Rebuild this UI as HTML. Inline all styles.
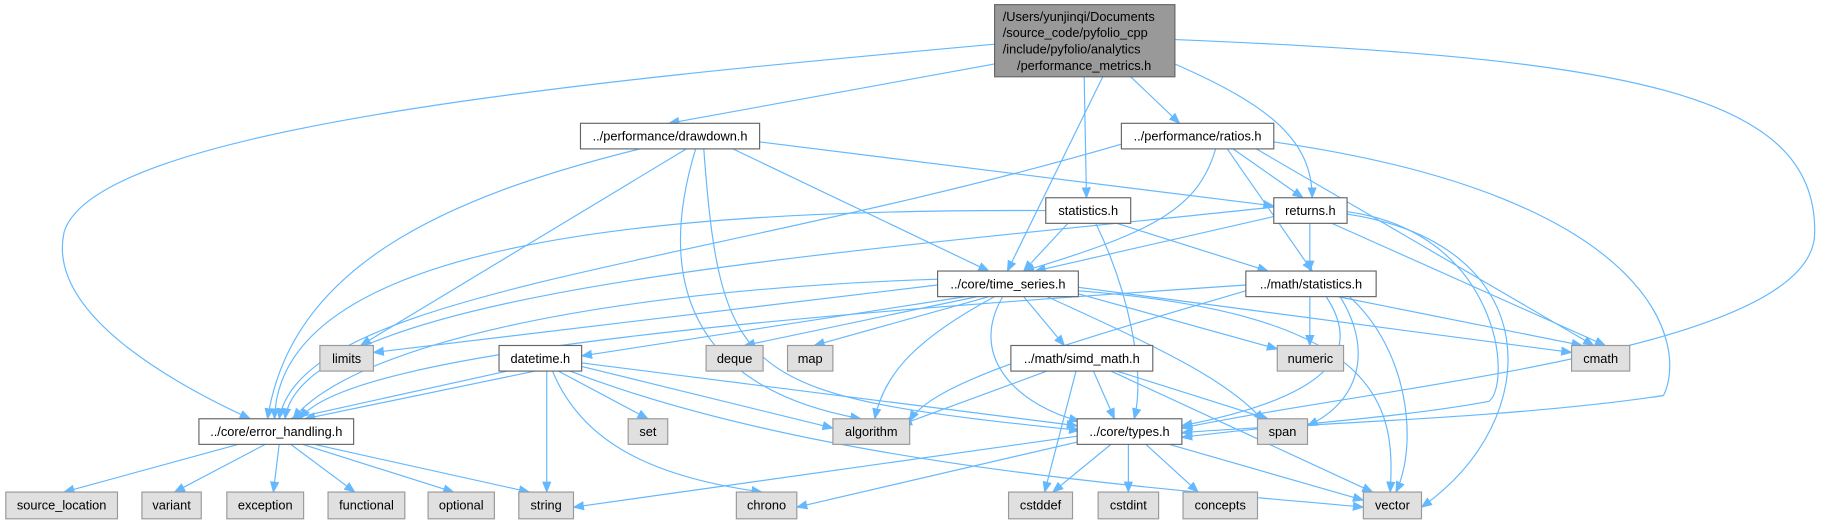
<!DOCTYPE html>
<html><head><meta charset="utf-8"><style>
html,body{margin:0;padding:0;background:#fff;width:1824px;height:523px;overflow:hidden}
svg{display:block}
text{font-family:"Liberation Sans",Arial,sans-serif;font-size:11px;fill:#000}
.e{fill:none;stroke:#63b8ff;stroke-width:1}
.n{fill:#fff;stroke:#666;stroke-width:1}
.g{fill:#e0e0e0;stroke:#999;stroke-width:1}
</style></head><body>
<svg width="1824" height="523" viewBox="0 0 1568 449.6" preserveAspectRatio="none" xmlns="http://www.w3.org/2000/svg">
<defs><marker id="a" markerUnits="userSpaceOnUse" markerWidth="10" markerHeight="8" refX="9" refY="4" orient="auto"><path d="M0,0 L10,4 L0,8 z" fill="#63b8ff"/></marker></defs>
<g class="e" marker-end="url(#a)">
<path d="M855,38 C500,70 80,110 55,200 C40,270 150,330 215,360"/>
<path d="M855,55 L575,106"/>
<path d="M948,66 L866,233"/>
<path d="M932,66 L934,170"/>
<path d="M972,66 L1014,106"/>
<path d="M1010,55 C1090,90 1128,120 1128,170"/>
<path d="M1010,34 C1400,50 1562,80 1560,200 C1560,300 1200,330 1016,368"/>
<path d="M550,128 C380,170 250,230 230,360"/>
<path d="M590,128 L310,297"/>
<path d="M598,128 C570,220 575,330 740,360"/>
<path d="M605,128 C620,330 640,340 928,370"/>
<path d="M630,128 L850,233"/>
<path d="M653,122 L1095,177"/>
<path d="M964,124 C600,230 260,250 240,360"/>
<path d="M1045,128 C1030,180 990,200 880,233"/>
<path d="M1060,128 L1120,170"/>
<path d="M1055,128 L1128,233"/>
<path d="M1080,128 L1370,297"/>
<path d="M1095,122 C1430,170 1450,300 1430,340 C1300,360 1100,365 1016,372"/>
<path d="M899,181 C600,180 240,200 236,360"/>
<path d="M918,192 L880,233"/>
<path d="M960,192 L1090,233"/>
<path d="M942,192 C970,250 985,320 975,360"/>
<path d="M1095,178 C700,220 260,250 245,360"/>
<path d="M1100,185 L890,233"/>
<path d="M1126,192 L1126,233"/>
<path d="M1145,192 L1380,297"/>
<path d="M1158,182 C1290,200 1300,330 1280,345 C1200,360 1100,365 1016,376"/>
<path d="M1158,184 C1330,210 1330,360 1222,436"/>
<path d="M806,240 C500,250 300,300 252,360"/>
<path d="M806,245 L321,303"/>
<path d="M830,255 L500,306"/>
<path d="M840,255 L640,297"/>
<path d="M850,255 L700,297"/>
<path d="M855,255 C790,290 760,320 752,360"/>
<path d="M862,255 C830,310 880,350 928,362"/>
<path d="M880,255 L915,297"/>
<path d="M900,255 C1000,300 1060,330 1086,362"/>
<path d="M925,252 L1098,300"/>
<path d="M927,247 L1351,303"/>
<path d="M927,250 C1190,270 1200,350 1195,423"/>
<path d="M1071,245 C700,270 300,300 258,360"/>
<path d="M1071,250 C900,300 800,330 782,362"/>
<path d="M1126,255 L1126,297"/>
<path d="M1150,255 L1360,297"/>
<path d="M1140,255 C1170,300 1150,340 1016,366"/>
<path d="M1152,255 C1180,300 1170,345 1124,366"/>
<path d="M1160,255 C1210,300 1220,380 1200,423"/>
<path d="M460,319 L262,360"/>
<path d="M436,319 L250,360"/>
<path d="M470,319 L470,423"/>
<path d="M480,319 L557,360"/>
<path d="M475,319 C500,380 560,410 655,423"/>
<path d="M500,315 L716,368"/>
<path d="M500,312 L926,366"/>
<path d="M490,319 C700,400 1000,420 1172,436"/>
<path d="M900,319 L775,365"/>
<path d="M940,319 L958,360"/>
<path d="M960,319 L1090,360"/>
<path d="M925,319 L898,423"/>
<path d="M955,319 L1180,423"/>
<path d="M205,382 L55,423"/>
<path d="M228,382 L150,423"/>
<path d="M240,382 L235,423"/>
<path d="M250,382 L305,423"/>
<path d="M260,382 L390,423"/>
<path d="M270,382 L455,423"/>
<path d="M926,375 L493,436"/>
<path d="M926,380 L685,436"/>
<path d="M955,382 L905,423"/>
<path d="M970,382 L970,423"/>
<path d="M985,382 L1030,423"/>
<path d="M1005,382 L1172,430"/>
</g>
<rect x="855" y="4" width="155" height="62" fill="#999" stroke="#666"/>
<text x="862" y="18">/Users/yunjinqi/Documents</text>
<text x="862" y="32">/source_code/pyfolio_cpp</text>
<text x="862" y="46">/include/pyfolio/analytics</text>
<text x="932" y="60" text-anchor="middle">/performance_metrics.h</text>
<g>
<rect class="n" x="499" y="106" width="154" height="22"/><text x="576" y="121" text-anchor="middle">../performance/drawdown.h</text>
<rect class="n" x="964" y="106" width="131" height="22"/><text x="1029.5" y="121" text-anchor="middle">../performance/ratios.h</text>
<rect class="n" x="899" y="170" width="73" height="22"/><text x="935.5" y="185" text-anchor="middle">statistics.h</text>
<rect class="n" x="1095" y="170" width="63" height="22"/><text x="1126.5" y="185" text-anchor="middle">returns.h</text>
<rect class="n" x="806" y="233" width="121" height="22"/><text x="866.5" y="248" text-anchor="middle">../core/time_series.h</text>
<rect class="n" x="1071" y="233" width="112" height="22"/><text x="1127" y="248" text-anchor="middle">../math/statistics.h</text>
<rect class="g" x="275" y="297" width="46" height="22"/><text x="298" y="312" text-anchor="middle">limits</text>
<rect class="n" x="429" y="297" width="71" height="22"/><text x="464.5" y="312" text-anchor="middle">datetime.h</text>
<rect class="g" x="607" y="297" width="49" height="22"/><text x="631.5" y="312" text-anchor="middle">deque</text>
<rect class="g" x="677" y="297" width="39" height="22"/><text x="696.5" y="312" text-anchor="middle">map</text>
<rect class="n" x="869" y="297" width="122" height="22"/><text x="930" y="312" text-anchor="middle">../math/simd_math.h</text>
<rect class="g" x="1098" y="297" width="57" height="22"/><text x="1126.5" y="312" text-anchor="middle">numeric</text>
<rect class="g" x="1351" y="297" width="50" height="22"/><text x="1376" y="312" text-anchor="middle">cmath</text>
<rect class="n" x="171" y="360" width="133" height="22"/><text x="237.5" y="375" text-anchor="middle">../core/error_handling.h</text>
<rect class="g" x="540" y="360" width="34" height="22"/><text x="557" y="375" text-anchor="middle">set</text>
<rect class="g" x="716" y="360" width="66" height="22"/><text x="749" y="375" text-anchor="middle">algorithm</text>
<rect class="n" x="926" y="360" width="90" height="22"/><text x="971" y="375" text-anchor="middle">../core/types.h</text>
<rect class="g" x="1081" y="360" width="43" height="22"/><text x="1102.5" y="375" text-anchor="middle">span</text>
<rect class="g" x="5" y="423" width="96" height="23"/><text x="53" y="438" text-anchor="middle">source_location</text>
<rect class="g" x="122" y="423" width="51" height="23"/><text x="147.5" y="438" text-anchor="middle">variant</text>
<rect class="g" x="195" y="423" width="66" height="23"/><text x="228" y="438" text-anchor="middle">exception</text>
<rect class="g" x="282" y="423" width="66" height="23"/><text x="315" y="438" text-anchor="middle">functional</text>
<rect class="g" x="368" y="423" width="57" height="23"/><text x="396.5" y="438" text-anchor="middle">optional</text>
<rect class="g" x="446" y="423" width="47" height="23"/><text x="469.5" y="438" text-anchor="middle">string</text>
<rect class="g" x="633" y="423" width="52" height="23"/><text x="659" y="438" text-anchor="middle">chrono</text>
<rect class="g" x="867" y="423" width="55" height="23"/><text x="894.5" y="438" text-anchor="middle">cstddef</text>
<rect class="g" x="944" y="423" width="52" height="23"/><text x="970" y="438" text-anchor="middle">cstdint</text>
<rect class="g" x="1017" y="423" width="64" height="23"/><text x="1049" y="438" text-anchor="middle">concepts</text>
<rect class="g" x="1172" y="423" width="50" height="23"/><text x="1197" y="438" text-anchor="middle">vector</text>
</g>
</svg>
</body></html>
